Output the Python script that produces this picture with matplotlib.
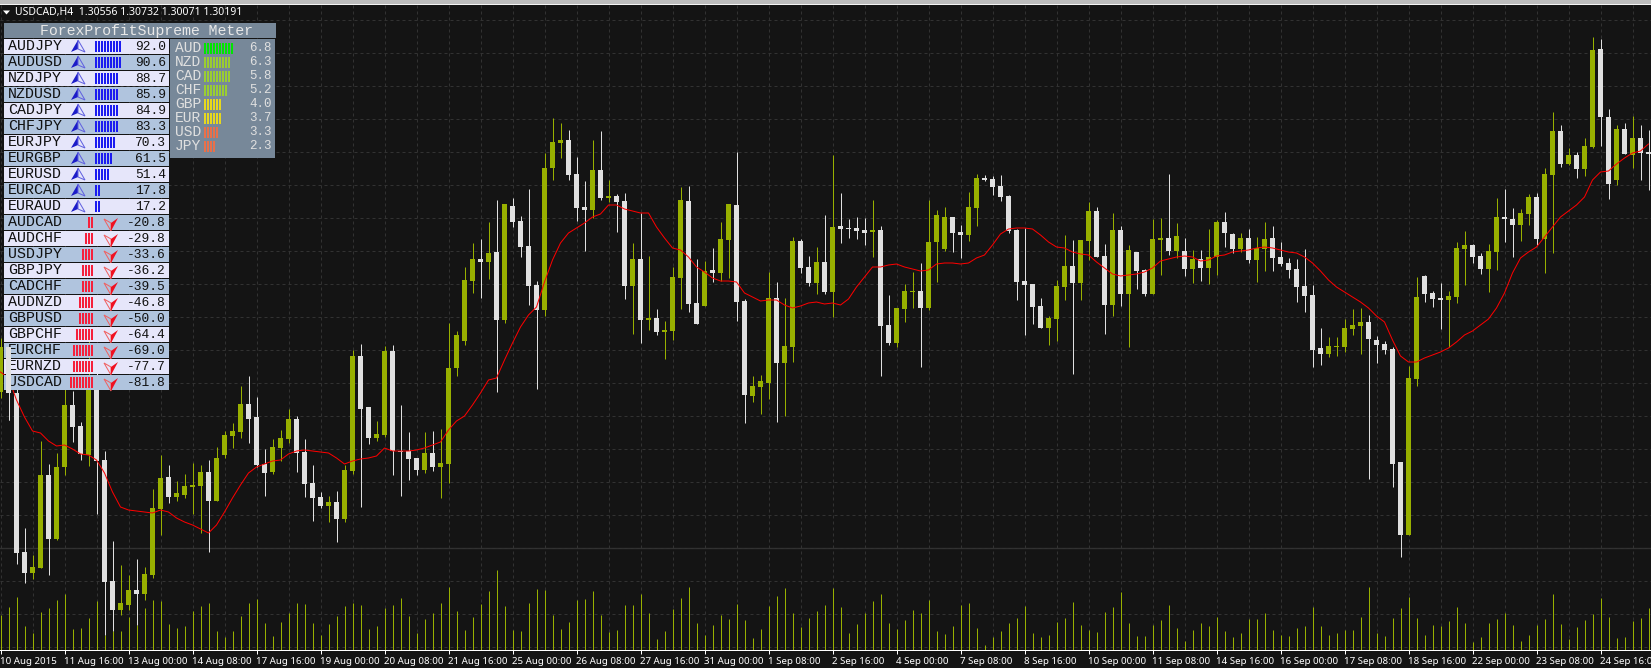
import numpy as np
import matplotlib
matplotlib.use('Agg')
import matplotlib.pyplot as plt
from matplotlib.patches import Rectangle, Polygon

# no price axis on this screenshot, so levels are counted up from the volume baseline
open_lv = [258,303,257,98,77,82,175,111,183,245, 224,195,262,190,69,40,45,60,56,75,
           141,173,153,155,163,164,178,149,195,214, 218,246,233,186,178,202,211,231,198,167,
           153,144,148,131,179,294,243,212,215,299, 199,199,192,180,197,183,186,282,309,369,
           391,388,398,330,444,429,404,365,340,482, 507,510,476,443,440,480,452,454,449,364,
           391,330,332,318,319,372,449,347,344,380, 377,410,445,349,254,263,267,352,287,303,
           409,383,367,388,358,424,422,422,420,418, 420,325,307,341,358,359,342,408,401,433,
           418,415,442,472,471,464,454,420,369,366, 344,322,331,363,384,367,409,439,394,345,
           420,356,398,380,356,410,412,399,399,381, 391,382,393,428,416,401,412,390,401,412,
           393,387,381,364,355,302,296,303,303,321, 324,328,310,306,301,188,115,271,374,357,
           352,350,353,401,405,394,381,398,433,431, 425,436,453,411,475,519,486,495,481,503,
           601,533,470,521,495,512,498]
high_lv = [312,303,272,122,95,209,186,197,270,259, 228,310,280,199,109,85,75,91,83,161,
           195,185,169,176,187,185,190,203,219,227, 264,274,253,201,211,220,241,234,211,185,
           158,154,159,185,300,306,243,229,304,305, 245,218,192,218,219,221,327,319,383,407,
           411,428,450,446,452,434,461,369,497,532, 527,520,493,469,510,519,470,456,457,407,
           437,394,341,329,383,463,464,391,389,402, 428,446,498,351,274,275,378,368,352,413,
           411,394,403,435,495,457,431,433,432,450, 424,355,342,366,378,387,450,440,443,433,
           425,458,476,475,474,475,455,421,422,366, 352,334,370,415,410,410,448,443,406,437,
           424,405,398,381,431,432,476,427,412,400, 400,421,430,438,417,417,421,413,428,424,
           408,392,391,401,365,322,313,313,331,341, 342,335,314,309,303,188,284,373,375,359,
           367,359,408,419,406,397,406,452,461,442, 441,456,457,482,538,525,502,498,512,613,
           611,541,525,527,534,525,520]
low_lv = [252,230,86,67,71,82,75,110,175,208, 190,184,136,15,19,35,40,25,50,72,
          115,147,149,152,136,117,98,149,192,202, 212,207,183,154,176,189,207,178,153,129,
          142,128,108,128,176,143,206,209,213,175, 154,170,175,177,179,152,167,274,305,357,
          352,371,258,327,423,393,345,261,334,470, 492,470,429,399,432,450,448,418,351,316,
          307,320,315,291,310,341,338,326,344,368, 369,372,329,227,248,236,251,228,234,288,
          377,364,356,356,333,407,412,411,405,393, 274,305,303,328,342,283,340,368,399,398,
          392,409,424,469,455,449,417,350,315,326, 322,305,309,350,276,350,390,393,316,334,
          344,303,361,354,356,375,395,392,374,367, 369,366,375,403,397,398,387,368,379,379,
          384,372,348,338,283,285,293,294,298,315, 296,171,287,296,163,93,115,264,348,343,
          321,303,347,365,387,376,358,380,408,393, 409,425,405,377,397,483,485,472,474,502,
          504,451,465,496,482,470,460]
close_lv = [303,257,97,77,83,175,111,183,245,223, 196,272,189,68,40,47,60,56,76,142,
            172,153,157,164,165,178,149,192,215,219, 246,231,185,177,203,212,231,197,166,152,
            144,148,131,180,294,241,212,216,299,199, 198,191,180,197,183,187,282,315,370,391,
            388,397,330,446,428,403,364,340,482,508, 510,475,442,440,480,452,454,448,364,391,
            330,332,318,320,373,450,346,326,379,377, 411,446,348,255,264,269,352,287,304,409,
            382,367,388,358,423,421,421,419,417,420, 324,307,342,359,359,342,408,435,433,417,
            415,443,472,470,463,453,419,368,365,343, 322,332,364,384,367,410,439,393,345,420,
            356,400,379,356,411,412,399,414,381,391, 382,393,428,417,401,412,390,402,411,392,
            386,380,363,354,300,296,304,304,322,325, 328,311,305,300,186,115,272,353,356,351,
            350,354,402,405,393,381,399,433,431,425, 437,453,411,476,519,486,495,481,504,600,
            533,466,521,496,512,497,496]
ma_lv = [278,272,250,233,219,217,209,204,205,201, 196,195,190,177,158,143,140,139,138,137,
         140,138,132,128,125,121,117,125,138,152, 165,177,183,186,189,190,196,199,200,199,
         198,197,192,186,189,191,192,194,202,199, 199,199,200,202,205,208,220,229,234,245,
         257,270,272,290,307,323,335,343,368,390, 407,417,422,427,433,436,445,445,441,439,
         437,437,423,412,402,400,393,383,378,372, 369,369,368,357,353,349,350,350,345,342,
         344,347,348,346,347,345,351,363,373,383, 383,385,386,383,381,379,380,386,387,387,
         386,387,392,395,405,416,421,422,422,421, 415,408,403,402,398,396,395,388,382,376,
         374,375,376,378,382,389,391,393,394,393, 389,390,394,395,398,399,400,402,403,402,
         400,398,397,393,387,379,370,363,358,353, 348,342,334,328,310,294,288,288,292,295,
         298,302,308,315,319,325,331,342,357,377, 392,398,403,413,423,433,439,445,453,470,
         478,479,486,492,497,499,506]
volume = [35,43,53,24,17,38,42,50,56,21, 22,32,49,15,19,19,33,25,42,50,
          49,26,22,24,39,44,47,19,13,19, 34,47,51,27,14,28,37,47,46,27,
          15,26,34,44,47,45,21,24,42,45, 52,34,17,31,37,47,63,39,20,33,
          46,59,80,44,20,19,47,61,60,35, 21,28,50,51,59,35,18,20,45,45,
          56,37,11,19,41,52,63,27,15,25, 35,31,46,30,12,21,44,54,62,37,
          23,32,39,45,62,43,17,26,37,49, 56,27,21,30,40,37,50,19,16,24,
          45,47,22,5,13,19,27,32,44,17, 13,15,28,32,48,25,20,18,38,43,
          58,27,14,14,25,30,45,22,9,20, 27,24,33,19,13,17,31,31,37,20,
          15,14,22,24,43,24,15,17,20,20, 33,63,17,14,32,42,53,32,15,25,
          24,29,43,27,8,13,27,31,37,25, 9,15,25,31,56,26,11,23,30,36,
          52,33,12,13,29,32,42]
date_labels = ['10 Aug 2015','11 Aug 16:00','13 Aug 00:00','14 Aug 08:00','17 Aug 16:00','19 Aug 00:00',
               '20 Aug 08:00','21 Aug 16:00','25 Aug 00:00','26 Aug 08:00','27 Aug 16:00','31 Aug 00:00',
               '1 Sep 08:00','2 Sep 16:00','4 Sep 00:00','7 Sep 08:00','8 Sep 16:00','10 Sep 00:00',
               '11 Sep 08:00','14 Sep 16:00','16 Sep 00:00','17 Sep 08:00','18 Sep 16:00','22 Sep 00:00',
               '23 Sep 08:00','24 Sep 16:00']

pairs = ['AUDJPY','AUDUSD','NZDJPY','NZDUSD','CADJPY','CHFJPY','EURJPY','EURGBP','EURUSD','EURCAD','EURAUD',
         'AUDCAD','AUDCHF','USDJPY','GBPJPY','CADCHF','AUDNZD','GBPUSD','GBPCHF','EURCHF','EURNZD','USDCAD']
pair_values = [92.0,90.6,88.7,85.9,84.9,83.3,70.3,61.5,51.4,17.8,17.2,
               -20.8,-29.8,-33.6,-36.2,-39.5,-46.8,-50.0,-64.4,-69.0,-77.7,-81.8]
pair_strips = [9,9,8,8,8,8,7,6,5,2,2, 2,3,4,4,4,5,5,6,7,7,8]
currencies = ['AUD','NZD','CAD','CHF','GBP','EUR','USD','JPY']
currency_values = [6.8,6.3,5.8,5.2,4.0,3.7,3.3,2.3]
currency_strips = [10,9,9,8,6,6,5,4]
currency_colors = ['#00e600','#9acd32','#9acd32','#9acd32','#e6d81e','#e6d81e','#e8704a','#e8704a']

BG = '#141414'
UP = '#98b000'
DOWN = '#e0e0e0'
W, H = 1651, 668
BASE_Y = 650
TOP_Y = 4
PX = 0.72  # one pixel in points at dpi 100


def draw_candles(ax, idx):
    for k in idx:
        col = UP if close_lv[k] > open_lv[k] else DOWN
        ax.vlines(k, low_lv[k], high_lv[k], color=col, lw=PX, zorder=3)
        ax.bar(k, abs(close_lv[k] - open_lv[k]), bottom=min(open_lv[k], close_lv[k]),
               width=5 / 8, color=col, linewidth=0, zorder=3)


fig = plt.figure(figsize=(W / 100, H / 100), dpi=100, facecolor=BG)
rect = [0, (H - BASE_Y) / H, 1, (BASE_Y - TOP_Y) / H]
ax = fig.add_axes(rect, facecolor=BG)
n = len(open_lv)
xlim = (-0.5 / 8, (W - 0.5) / 8)
ylim = (0, BASE_Y - TOP_Y)
ax.set_xlim(*xlim)
ax.set_ylim(*ylim)

ax.vlines(range(n), 0, volume, color=UP, lw=PX, zorder=2)
draw_candles(ax, range(n))
ax.plot(range(n), ma_lv, color='#ff0000', lw=PX, zorder=4)

ax.set_xticks(np.arange(0, n, 8))
ax.set_xticks(np.arange(4, n, 8), minor=True)
ax.set_xticklabels(date_labels, fontsize=7, color='white', ha='left', family='Noto Sans')
ax.set_yticks(np.arange(3, 640, 33))
ax.set_yticklabels([])
ax.grid(True, which='both', color='#323232', lw=PX, ls=(0, (3, 3)), zorder=1)
ax.axhline(102, color='#303030', lw=PX * 1.4, zorder=1)
ax.tick_params(axis='x', which='major', length=3, width=PX, color='white', pad=2, direction='out')
ax.tick_params(axis='x', which='minor', length=0)
ax.tick_params(axis='y', length=0)
for s in ['left', 'right', 'top']:
    ax.spines[s].set_visible(False)
ax.spines['bottom'].set_color('white')
ax.spines['bottom'].set_linewidth(PX)

# panels and header sit over the chart, laid out in screen rows
ov = fig.add_axes([0, 0, 1, 1], facecolor='none')
ov.set_xlim(0, W)
ov.set_ylim(H, 0)
ov.axis('off')
ov.add_patch(Rectangle((0, 0), W, 3.5, color='#bdbdbd', lw=0))
ov.add_patch(Rectangle((0, 3.5), W, 1.5, color='#f5f5f5', lw=0))
ov.add_patch(Polygon([(3, 10.5), (10, 10.5), (6.5, 14.5)], color='white', lw=0))
ov.text(15, 12.5, 'USDCAD,H4  1.30556 1.30732 1.30071 1.30191', fontsize=7.5, color='white',
        va='center', ha='left', family='Noto Sans')

MONO = 'Liberation Mono'
ov.add_patch(Rectangle((4, 23), 272, 15, color='#778899', lw=0))
ov.text(146, 30.5, 'ForexProfitSupreme Meter', fontsize=10.7, color='#e8e8e8', family=MONO,
        ha='center', va='center')

for i, (name, val, strips) in enumerate(zip(pairs, pair_values, pair_strips)):
    top = 39 + 16 * i
    ov.add_patch(Rectangle((4, top), 165, 15, color='#e6e6fa' if i % 2 == 0 else '#b0c4de', lw=0))
    ov.text(8, top + 7.5, name, fontsize=10.8, color='#101010', family=MONO, ha='left', va='center')
    ov.text(166, top + 7.5, '%.1f' % val, fontsize=9.3, color='#101010', family=MONO, ha='right', va='center')
    if val > 0:
        for s in range(strips):
            ov.add_patch(Rectangle((95 + 3 * s, top + 2), 2, 11, color='#1c1cf0', lw=0))
        # up arrow, left half solid and right half outlined
        ov.add_patch(Polygon([(78, top + 1), (71, top + 13), (78, top + 10)], color='#1c1cc8', lw=0))
        ov.add_patch(Polygon([(78, top + 1), (85, top + 13), (78, top + 10)], fill=False,
                             edgecolor='#6060e0', lw=PX))
    else:
        for s in range(strips):
            ov.add_patch(Rectangle((91 - 3 * s, top + 2), 2, 11, color='#f5203c', lw=0))
        # down arrow, left half outlined and right half solid
        ov.add_patch(Polygon([(104, top + 4), (111, top + 8), (111, top + 16)], fill=False,
                             edgecolor='#f06060', lw=PX))
        ov.add_patch(Polygon([(118, top + 3), (111, top + 8), (111, top + 16)], color='#f01020', lw=0))

ov.add_patch(Rectangle((170, 39), 105, 119, color='#778899', lw=0))
for i, (name, val, strips, col) in enumerate(zip(currencies, currency_values, currency_strips, currency_colors)):
    cy = 48.3 + 14 * i
    ov.text(175, cy, name, fontsize=10.5, color='#e0e0e0', family=MONO, ha='left', va='center')
    ov.text(272, cy, '%.1f' % val, fontsize=9, color='#e0e0e0', family=MONO, ha='right', va='center')
    for s in range(strips):
        ov.add_patch(Rectangle((204 + 3 * s, cy - 5.5), 2, 11, color=col, lw=0))

# the first candles were painted over the meter in the screenshot
front = fig.add_axes(rect, facecolor='none')
front.set_xlim(*xlim)
front.set_ylim(*ylim)
front.axis('off')
draw_candles(front, [1])

fig.savefig('out.png', dpi=100, facecolor=BG)
